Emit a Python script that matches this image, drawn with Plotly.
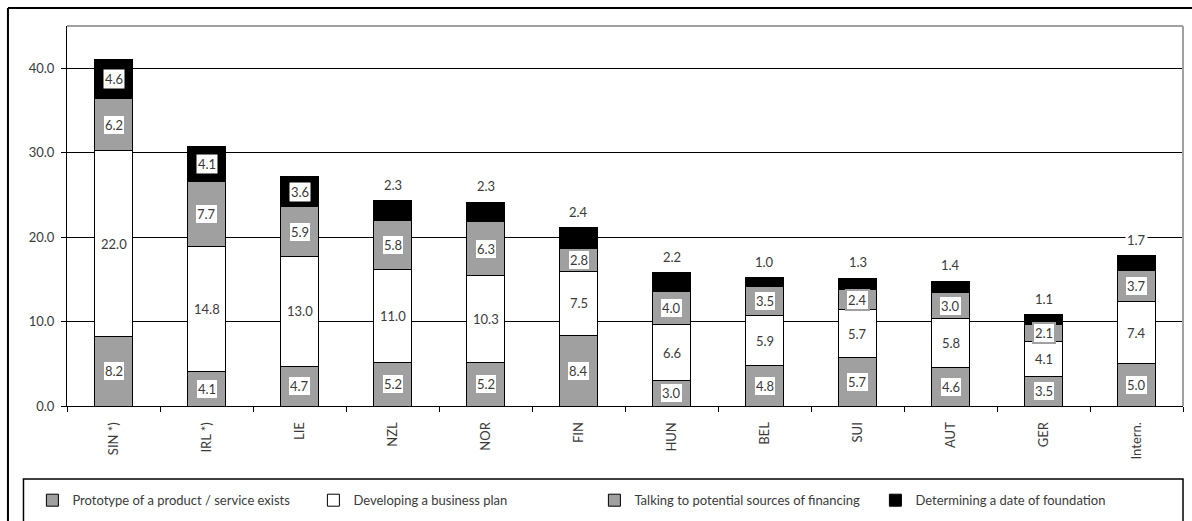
import plotly.graph_objects as go

# Stacked shares per country / group
countries = ["SIN *)", "IRL *)", "LIE", "NZL", "NOR", "FIN", "HUN", "BEL", "SUI", "AUT", "GER", "Intern."]
prototype = [8.2, 4.1, 4.7, 5.2, 5.2, 8.4, 3.0, 4.8, 5.7, 4.6, 3.5, 5.0]
business_plan = [22.0, 14.8, 13.0, 11.0, 10.3, 7.5, 6.6, 5.9, 5.7, 5.8, 4.1, 7.4]
financing = [6.2, 7.7, 5.9, 5.8, 6.3, 2.8, 4.0, 3.5, 2.4, 3.0, 2.1, 3.7]
foundation = [4.6, 4.1, 3.6, 2.3, 2.3, 2.4, 2.2, 1.0, 1.3, 1.4, 1.1, 1.7]

series_names = [
    "Prototype of a product / service exists",
    "Developing a business plan",
    "Talking to potential sources of financing",
    "Determining a date of foundation",
]
y_ticks = [0, 10, 20, 30, 40]

GRAY = "#a0a0a0"
FONT = "Lato, 'Open Sans', sans-serif"
TXT = "#3a3a3a"

series = [prototype, business_plan, financing, foundation]
fills = [GRAY, "#ffffff", GRAY, "#000000"]

fig = go.Figure()
for name, vals, col in zip(series_names, series, fills):
    fig.add_trace(go.Bar(
        x=countries, y=vals, name=name,
        marker=dict(color=col, line=dict(color="#000000", width=1)),
        hoverinfo="x+y+name",
    ))

# Segment value labels
annotations = []
for i, c in enumerate(countries):
    base = 0.0
    for k, vals in enumerate(series):
        v = vals[i]
        mid = base + v / 2
        top = base + v
        label = f"{v:.1f}"
        if k == 1:
            annotations.append(dict(x=c, y=mid, text=label, showarrow=False,
                                    font=dict(size=13, color=TXT, family=FONT)))
        elif k in (0, 2):
            small = v < 3.2
            annotations.append(dict(x=c, y=mid, text=label, showarrow=False,
                                    font=dict(size=13, color=TXT, family=FONT),
                                    bgcolor="#ffffff",
                                    bordercolor=GRAY if small else "rgba(0,0,0,0)",
                                    borderwidth=2 if small else 0, borderpad=1))
        else:
            if v >= 3.0:
                annotations.append(dict(x=c, y=mid, text=label, showarrow=False,
                                        font=dict(size=13, color=TXT, family=FONT),
                                        bgcolor="#ffffff", borderpad=1))
            else:
                annotations.append(dict(x=c, y=top, yanchor="bottom", yshift=6,
                                        text=label, showarrow=False,
                                        font=dict(size=13, color=TXT, family=FONT),
                                        bgcolor="#ffffff", borderpad=1))
        base = top

shapes = [
    # outer frame (top and left edges)
    dict(type="line", xref="paper", yref="paper", x0=-0.0529, x1=1.01, y0=1.0474, y1=1.0474,
         line=dict(color="#000000", width=2)),
    dict(type="line", xref="paper", yref="paper", x0=-0.0529, x1=-0.0529, y0=-0.32, y1=1.0474,
         line=dict(color="#000000", width=2)),
    # plot area frame (top and right)
    dict(type="line", xref="paper", yref="paper", x0=0, x1=1, y0=1, y1=1,
         line=dict(color=GRAY, width=2)),
    dict(type="line", xref="paper", yref="paper", x0=1, x1=1, y0=0, y1=1,
         line=dict(color=GRAY, width=2)),
    # legend frame
    dict(type="rect", xref="paper", yref="paper", x0=-0.039, x1=1.0, y0=-0.40, y1=-0.1921,
         line=dict(color="#000000", width=1.5), fillcolor="rgba(0,0,0,0)", layer="below"),
]

fig.update_layout(
    barmode="stack",
    bargap=0.6,
    width=1192, height=521,
    margin=dict(l=67, r=9, t=26, b=115, autoexpand=False),
    paper_bgcolor="#ffffff",
    plot_bgcolor="#ffffff",
    font=dict(family=FONT, size=13, color=TXT),
    showlegend=True,
    legend=dict(orientation="h", x=-0.031, xanchor="left", y=-0.248, yanchor="middle",
                font=dict(size=13, color=TXT, family=FONT),
                traceorder="normal", itemclick=False,
                entrywidth=236, entrywidthmode="pixels", bgcolor="rgba(0,0,0,0)"),
    annotations=annotations,
    shapes=shapes,
    xaxis=dict(
        type="category", tickangle=-90, showline=True, linecolor="#000000", linewidth=1,
        ticks="outside", tickson="boundaries", ticklen=5, tickcolor="#000000",
        ticklabelstandoff=10,
        showgrid=False, tickfont=dict(size=13, color=TXT, family=FONT),
    ),
    yaxis=dict(
        range=[0, 45], tickvals=y_ticks, tickformat=".1f",
        showline=True, linecolor="#000000", linewidth=1,
        ticks="outside", ticklen=5, tickcolor="#000000",
        ticklabelstandoff=4,
        showgrid=True, gridcolor="#000000", gridwidth=1, zeroline=False,
        tickfont=dict(size=13, color=TXT, family=FONT),
    ),
)

fig.write_html("out.html")
